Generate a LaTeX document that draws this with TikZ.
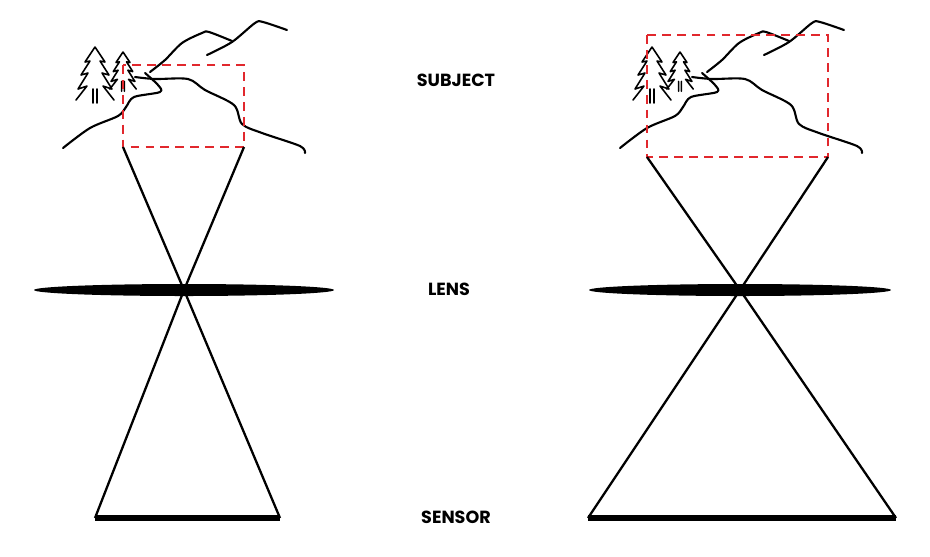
\documentclass[tikz,border=0pt]{standalone}
\usepackage{fontspec}
\setmainfont{Poppins}
\definecolor{framered}{RGB}{225,40,45}
\tikzset{
  ray/.style={line width=1.3pt},
  sensorbar/.style={line width=3pt},
  frame/.style={framered, dash pattern=on 5pt off 3.5pt, line width=0.9pt},
  ink/.style={line width=1.2pt, line cap=round, line join=round},
  label/.style={font=\bfseries\normalsize},
  scene/.pic={
    % trees
    \foreach \tx/\ty/\ts in {95/47/1.0, 123/52/0.7}
      \draw[ink, line width=0.9pt, shift={(\tx,\ty)}, scale=\ts]
        (0,0) -- (-10,15) -- (-5,14) -- (-14,28) -- (-7,26) -- (-17,42) -- (-8,39) -- (-19,53)
        (0,0) -- (10,15) -- (5,14) -- (14,28) -- (7,26) -- (17,42) -- (8,39) -- (19,53)
        (-2,42) -- (-2,56) (2,42) -- (2,56);
    % mountains
    \draw[ink] plot[smooth] coordinates {(150,72) (165,60) (182,43) (202,33) (209,32) (232,41)};
    \draw[ink] plot[smooth] coordinates {(207,55) (232,42) (255,23) (263,22) (287,30)};
    % river and hills
    \draw[ink] plot[smooth] coordinates {(145,73) (158,85) (160,92) (134,97) (126,107) (118,116) (90,128) (63,148)};
    \draw[ink] plot[smooth] coordinates {(135,77) (155,79) (188,79) (205,90) (234,105) (242,124) (262,133) (300,146) (305,153)};
  }
}
\begin{document}
\begin{tikzpicture}[x=0.02cm, y=-0.02cm]
\useasboundingbox (0,0) rectangle (930,556);
% left camera
\pic at (0,0) {scene};
\fill[black] (184,290) ellipse (150 and 6);
\coordinate (lc) at (184,290);
\coordinate (lsa) at (95,518);
\coordinate (lsb) at (280,518);
\draw[frame] (123,65) rectangle (244,147);
\coordinate (lfa) at (123,147);
\coordinate (lfb) at (244,147);
\draw[sensorbar] (lsa) -- (lsb);
\draw[ray] (lsa) -- (lc) -- (lfb);
\draw[ray] (lsb) -- (lc) -- (lfa);
% right camera
\pic at (557,0) {scene};
\fill[black] (740,290) ellipse (151 and 6);
\coordinate (rc) at (740,290);
\coordinate (rsa) at (588,518);
\coordinate (rsb) at (896,518);
\draw[frame] (647,35) rectangle (828,157);
\coordinate (rfa) at (647,157);
\coordinate (rfb) at (828,157);
\draw[sensorbar] (rsa) -- (rsb);
\draw[ray] (rsa) -- (rc) -- (rfb);
\draw[ray] (rsb) -- (rc) -- (rfa);
% labels
\node[label] (subject) at (456,80) {SUBJECT};
\node[label] (lens) at (449,289) {LENS};
\node[label] (sensor) at (456,517) {SENSOR};
\end{tikzpicture}
\end{document}
